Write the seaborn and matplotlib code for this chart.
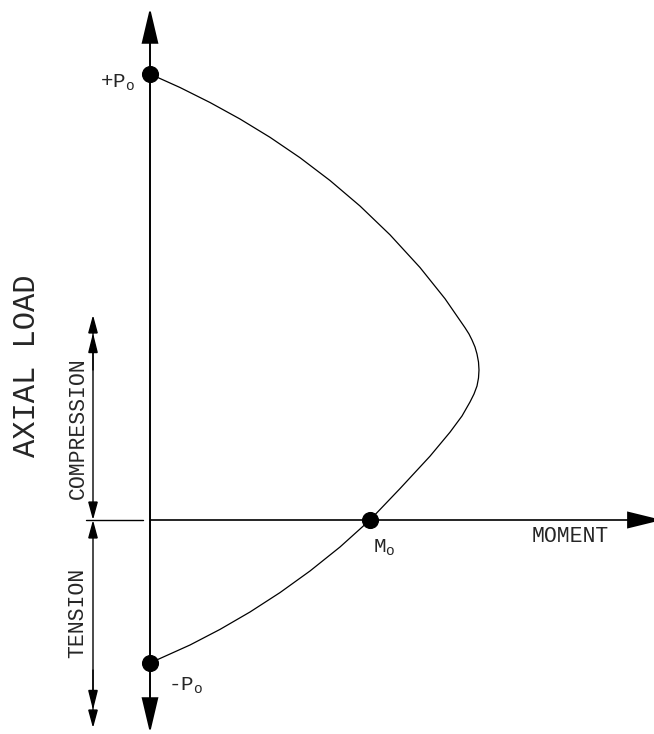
import matplotlib
matplotlib.use("Agg")
import matplotlib.pyplot as plt
import numpy as np
import pandas as pd
import seaborn as sns
from matplotlib.patches import FancyArrowPatch

# ---- data (moment vs axial load, arbitrary units) ----
moment = [0, 30, 60, 90, 120, 150, 180, 210, 240, 270, 295, 315,
          319, 322, 325, 327, 328.5, 329, 328.5, 327, 324, 320, 316, 312,
          300, 280, 250, 220, 190, 160, 130, 100, 70, 40, 0]
axial = [446, 432.5, 417.5, 401, 382.7, 362.3, 339.5, 314, 285.2, 252.5, 221.3, 192.3,
         186, 180, 173, 166, 158, 150, 142, 134, 126, 118, 111, 104,
         87.8, 63.8, 31.4, 0, -27, -51, -72.6, -92, -109.4, -125, -143]

point_moment = [0, 220, 0]
point_axial = [446, 0, -143]
point_labels = ["+P$_\\mathregular{o}$", "M$_\\mathregular{o}$", "-P$_\\mathregular{o}$"]
label_dx = [-32, 14, 36]
label_dy = [-9, -28, -23]

axis_title_y = "AXIAL LOAD"
axis_title_x = "MOMENT"
zone_labels = ["COMPRESSION", "TENSION"]

sns.set_style("white")
plt.rcParams["font.family"] = ["Liberation Mono", "DejaVu Sans"]
plt.rcParams["mathtext.fontset"] = "custom"
plt.rcParams["mathtext.rm"] = "Liberation Mono"

fig = plt.figure(figsize=(6.54, 7.34), dpi=100)
ax = fig.add_axes([0, 0, 1, 1])
ax.set_xlim(-150, 504)
ax.set_ylim(-214, 520)
ax.axis("off")

df = pd.DataFrame({"moment": moment, "axial": axial})
sns.lineplot(data=df, x="moment", y="axial", sort=False, estimator=None,
             color="black", linewidth=0.9, ax=ax)
pts = pd.DataFrame({"moment": point_moment, "axial": point_axial})
sns.scatterplot(data=pts, x="moment", y="axial", color="black", s=130,
                edgecolor="black", zorder=5, ax=ax)

def arrow(p0, p1, style, hl, hw, lw=1.3):
    a = FancyArrowPatch(p0, p1, arrowstyle=f"{style},head_length={hl},head_width={hw}",
                        mutation_scale=1, shrinkA=0, shrinkB=0, color="black",
                        linewidth=lw, joinstyle="miter")
    ax.add_patch(a)

# main axes
arrow((0, -213), (0, 512), "<|-|>", 22, 5.2, lw=1.4)
arrow((0, 0), (512, 0), "-|>", 22, 5.4, lw=1.2)
ax.plot([-64, -7], [0, 0], color="black", linewidth=1.0)

# dimension lines
dx = -57
arrow((dx, 0), (dx, 205), "<|-|>", 11, 3, lw=1.0)
arrow((dx, 150), (dx, 187), "-|>", 12, 3, lw=1.0)
arrow((dx, 0), (dx, -208), "<|-|>", 11, 3, lw=1.0)
arrow((dx, -150), (dx, -190), "-|>", 12, 3, lw=1.0)

# labels
for m, p, t, ddx, ddy in zip(point_moment, point_axial, point_labels, label_dx, label_dy):
    ax.text(m + ddx, p + ddy, t, fontsize=15, ha="center", va="center")

ax.text(420, -17, axis_title_x, fontsize=15.5, ha="center", va="center")
ax.text(-123, 154, axis_title_y, fontsize=22, rotation=90, ha="center", va="center")
ax.text(-72, 92, zone_labels[0], fontsize=15.5, rotation=90, ha="center", va="center")
ax.text(-72, -93, zone_labels[1], fontsize=15.5, rotation=90, ha="center", va="center")

fig.savefig("out.png", dpi=100, facecolor="white")
